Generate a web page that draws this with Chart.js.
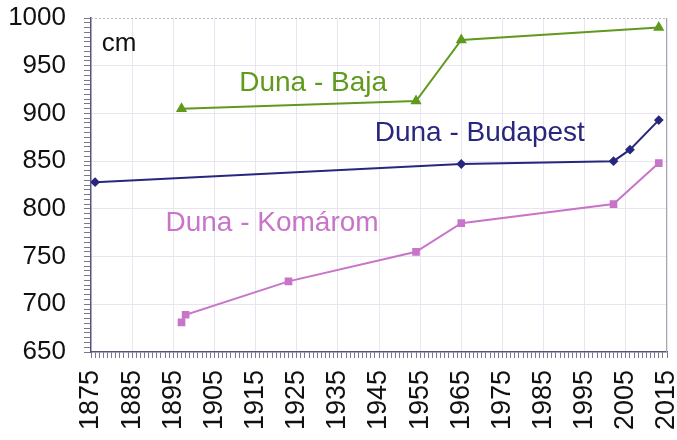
<!DOCTYPE html>
<html>
<head>
<meta charset="utf-8">
<script src="https://cdn.jsdelivr.net/npm/chart.js@4.4.1/dist/chart.umd.min.js"></script>
<style>
  html, body { margin: 0; padding: 0; background: #fff; }
  #wrap { width: 677px; height: 440px; }
</style>
</head>
<body>
<div id="wrap"><canvas id="c" width="677" height="440"></canvas></div>
<script>
// Water level records on the Danube (cm)
const bajaYears = [1897, 1954, 1965, 2013];
const bajaLevels = [905, 913, 977, 990];

const budapestYears = [1876, 1965, 2002, 2006, 2013];
const budapestLevels = [828, 847, 850, 862, 893];

const komaromYears = [1897, 1898, 1923, 1954, 1965, 2002, 2013];
const komaromLevels = [681, 689, 724, 755, 785, 805, 848];

// Axis ranges and label steps
const yearMin = 1875, yearMax = 2015, yearLabelStep = 10;
const levelMin = 650, levelMax = 1000, levelLabelStep = 50;

// Series names, with the (year, level) spot each name is centred on
const seriesNames = ['Duna - Baja', 'Duna - Budapest', 'Duna - Komárom'];
const nameAnchors = [[1929, 932], [1969.5, 879], [1919, 785]];
const unitLabel = 'cm';
const unitAnchor = [1881.8, 973];

const colors = ['#5f9a1c', '#27277e', '#c874c8'];

function points(xs, ys) { return xs.map((x, i) => ({ x: x, y: ys[i] })); }

const seriesText = {
  id: 'seriesText',
  afterDatasetsDraw(chart) {
    const { ctx, scales: { x, y } } = chart;
    ctx.save();
    ctx.textAlign = 'center';
    ctx.textBaseline = 'middle';
    ctx.font = '28px "Liberation Sans", Arial, sans-serif';
    seriesNames.forEach((name, i) => {
      ctx.fillStyle = colors[i];
      ctx.fillText(name, x.getPixelForValue(nameAnchors[i][0]), y.getPixelForValue(nameAnchors[i][1]));
    });
    ctx.fillStyle = '#111';
    ctx.font = '26px "Liberation Sans", Arial, sans-serif';
    ctx.fillText(unitLabel, x.getPixelForValue(unitAnchor[0]), y.getPixelForValue(unitAnchor[1]));
    ctx.restore();
  }
};

// Frame: dotted top edge and thin grey right edge of the plot area
const frame = {
  id: 'frame',
  beforeDatasetsDraw(chart) {
    const { ctx, chartArea: a } = chart;
    ctx.save();
    ctx.strokeStyle = '#b8b4c4';
    ctx.lineWidth = 1;
    ctx.setLineDash([2, 2]);
    ctx.beginPath();
    ctx.moveTo(a.left, a.top + 0.5);
    ctx.lineTo(a.right, a.top + 0.5);
    ctx.stroke();
    ctx.setLineDash([]);
    ctx.strokeStyle = '#a8a4b0';
    ctx.beginPath();
    ctx.moveTo(a.right - 0.5, a.top);
    ctx.lineTo(a.right - 0.5, a.bottom);
    ctx.stroke();
    ctx.restore();
  }
};

function stepTicks(min, max, step) {
  const t = [];
  for (let v = min; v <= max; v += step) t.push({ value: v });
  return t;
}

const gridFaint = '#e8e5f0';

new Chart(document.getElementById('c'), {
  type: 'line',
  data: {
    datasets: [
      {
        label: seriesNames[0], data: points(bajaYears, bajaLevels),
        borderColor: colors[0], backgroundColor: colors[0], borderWidth: 2,
        pointStyle: 'triangle', pointRadius: 4.5, tension: 0
      },
      {
        label: seriesNames[1], data: points(budapestYears, budapestLevels),
        borderColor: colors[1], backgroundColor: colors[1], borderWidth: 2,
        pointStyle: 'rectRot', pointRadius: 3.5, tension: 0
      },
      {
        label: seriesNames[2], data: points(komaromYears, komaromLevels),
        borderColor: colors[2], backgroundColor: colors[2], borderWidth: 2,
        pointStyle: 'rect', pointRadius: 4, tension: 0
      }
    ]
  },
  options: {
    responsive: false,
    animation: false,
    devicePixelRatio: 1,
    layout: { padding: { top: 18, right: 10, left: 0, bottom: 0 } },
    plugins: { legend: { display: false }, tooltip: { enabled: false } },
    elements: { point: { borderWidth: 0 } },
    scales: {
      x: {
        type: 'linear', min: yearMin, max: yearMax,
        afterBuildTicks: s => { s.ticks = stepTicks(yearMin, yearMax, 1); },
        afterFit: s => { s.height = 88; s.paddingLeft = 0; s.paddingRight = 0; },
        ticks: {
          autoSkip: false, minRotation: 90, maxRotation: 90, padding: 12,
          color: '#111',
          font: { family: '"Liberation Sans", Arial, sans-serif', size: 27 },
          callback: v => ((v - yearMin) % yearLabelStep === 0 ? String(v) : '')
        },
        grid: {
          tickLength: 6,
          color: c => ((c.tick.value - yearMin) % yearLabelStep === 0 && c.tick.value !== yearMin ? gridFaint : 'rgba(0,0,0,0)'),
          tickColor: '#7a7890', tickWidth: 1
        },
        border: { color: '#55557a', width: 1.5 }
      },
      y: {
        min: levelMin, max: levelMax,
        afterBuildTicks: s => { s.ticks = stepTicks(levelMin, levelMax, 5); },
        afterFit: s => { s.width = 91; s.paddingTop = 0; s.paddingBottom = 0; },
        ticks: {
          autoSkip: false, padding: 18, color: '#111',
          font: { family: '"Liberation Sans", Arial, sans-serif', size: 26 },
          callback: v => (v % levelLabelStep === 0 ? String(v) : '')
        },
        grid: {
          tickLength: 7,
          color: c => (c.tick.value % levelLabelStep === 0 && c.tick.value !== levelMin && c.tick.value !== levelMax ? gridFaint : 'rgba(0,0,0,0)'),
          tickColor: '#7a7890', tickWidth: 1
        },
        border: { color: '#55557a', width: 1.5 }
      }
    }
  },
  plugins: [frame, seriesText]
});
</script>
</body>
</html>
